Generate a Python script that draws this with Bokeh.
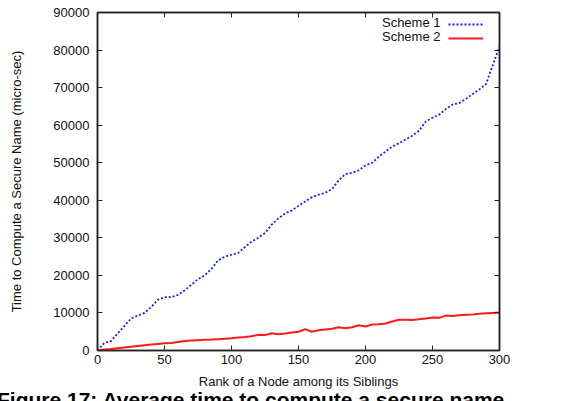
from bokeh.plotting import figure
from bokeh.layouts import column
from bokeh.models import (LinearAxis, Range1d, FixedTicker, NumeralTickFormatter,
                          Legend, LegendItem, Label, Div)
from bokeh.embed import file_html
from bokeh.resources import INLINE

# Rank of a node among its siblings
rank = [0, 5, 10, 15, 20, 25, 30, 35, 40, 45, 50, 55, 60, 65, 70, 75, 80, 85, 90, 95,
        100, 105, 110, 115, 120, 125, 130, 135, 140, 145, 150, 155, 160, 165, 170, 175,
        180, 185, 190, 195, 200, 205, 210, 215, 220, 225, 230, 235, 240, 245, 250, 255,
        260, 265, 270, 275, 280, 285, 290, 295, 300]

# Time to compute a secure name (micro-sec)
scheme1 = [0, 2000, 2500, 4500, 6500, 8500, 9300, 10000, 11500, 13500, 14200, 14200,
           14800, 16000, 17500, 19000, 20000, 21700, 24000, 25000, 25500, 26000, 27500,
           29000, 30000, 31300, 33500, 35200, 36500, 37300, 38500, 39700, 40800, 41500,
           42000, 43000, 45300, 47000, 47300, 48000, 49300, 50000, 51600, 53000, 54300,
           55200, 56200, 57200, 58500, 61000, 62000, 62800, 64300, 65500, 65900, 67000,
           68300, 69500, 71000, 76000, 81000]

scheme2 = [0, 250, 400, 600, 800, 1000, 1200, 1400, 1600, 1750, 1900, 2000, 2250, 2500,
           2650, 2750, 2850, 2900, 3000, 3100, 3250, 3450, 3600, 3800, 4200, 4100, 4600,
           4300, 4500, 4800, 5000, 5700, 5000, 5400, 5600, 5800, 6200, 5900, 6200, 6700,
           6400, 6900, 7000, 7200, 7700, 8200, 8200, 8100, 8300, 8500, 8800, 8700, 9300,
           9200, 9400, 9500, 9600, 9800, 9900, 10000, 10100]

x_ticks = [0, 50, 100, 150, 200, 250, 300]
y_ticks = [0, 10000, 20000, 30000, 40000, 50000, 60000, 70000, 80000, 90000]

caption = "Figure 17: Average time to compute a secure name"

FONT = "Liberation Sans"
FS = "13px"

p = figure(width=573, height=391, output_backend="svg", toolbar_location=None,
           x_range=Range1d(0, 300), y_range=Range1d(0, 90000),
           x_axis_label="Rank of a Node among its Siblings",
           y_axis_label="Time to Compute a Secure Name (micro-sec)",
           min_border_left=97, min_border_right=74, min_border_top=12,
           min_border_bottom=41)
p.grid.visible = False
p.outline_line_color = "#222222"
p.outline_line_width = 1.5
p.background_fill_color = "white"
p.border_fill_color = "white"

# Mirror axes on top and right, ticks only
p.add_layout(LinearAxis(), "right")
p.add_layout(LinearAxis(), "above")

for ax in p.axis:
    ax.axis_line_color = "#222222"
    ax.axis_line_width = 1.5
    ax.major_tick_in = 5
    ax.major_tick_out = 0
    ax.minor_tick_line_color = None
    ax.major_tick_line_color = "#222222"
    ax.major_label_text_font = FONT
    ax.major_label_text_font_size = FS
    ax.major_label_text_color = "#111111"
    ax.axis_label_text_font = FONT
    ax.axis_label_text_font_size = FS
    ax.axis_label_text_font_style = "normal"
    ax.axis_label_text_color = "#111111"

for ax in p.xaxis:
    ax.ticker = FixedTicker(ticks=x_ticks)
for ax in p.yaxis:
    ax.ticker = FixedTicker(ticks=y_ticks)
    ax.formatter = NumeralTickFormatter(format="0")

for ax in (p.right[0], p.above[0]):
    ax.major_label_text_color = None
    ax.major_label_standoff = 0
p.above[0].major_label_text_font_size = "1px"

p.left[0].major_label_standoff = 8
p.left[0].axis_label_standoff = 26
p.below[0].major_label_standoff = 4
p.below[0].axis_label_standoff = 7

r1 = p.line(rank, scheme1, line_color="#1a1aff", line_width=1.8, line_dash="2 2")
r2 = p.line(rank, scheme2, line_color="#ff1a1a", line_width=2)

# Key: text on the left, line sample on the right
legend = Legend(items=[LegendItem(label=" ", renderers=[r1]),
                       LegendItem(label=" ", renderers=[r2])],
                location=(351, 305), orientation="vertical",
                glyph_width=35, glyph_height=14, label_width=0, label_height=14,
                label_standoff=0, spacing=0, padding=0, margin=0,
                label_text_font_size="1px", label_text_color=None,
                background_fill_alpha=0, border_line_color=None)
p.add_layout(legend, "center")

for name, ypos in (("Scheme 1", 328.2), ("Scheme 2", 314.2)):
    p.add_layout(Label(x=343, y=ypos, x_units="screen", y_units="screen", text=name,
                       text_align="right", text_baseline="middle",
                       text_font=FONT, text_font_size=FS, text_color="#111111"))

# Figure caption strip underneath the chart
cap = Div(text=('<div style="font-family: \'Liberation Sans\'; font-weight: bold; '
                'font-size: 21px; line-height: 21px; white-space: nowrap; '
                'margin: -2px 0 0 -3px; color: #000;">' + caption + '</div>'),
          width=573, height=10, styles={"overflow": "hidden", "margin": "0"})

layout = column(p, cap, spacing=0)

open("out.html", "w").write(file_html(layout, INLINE))
